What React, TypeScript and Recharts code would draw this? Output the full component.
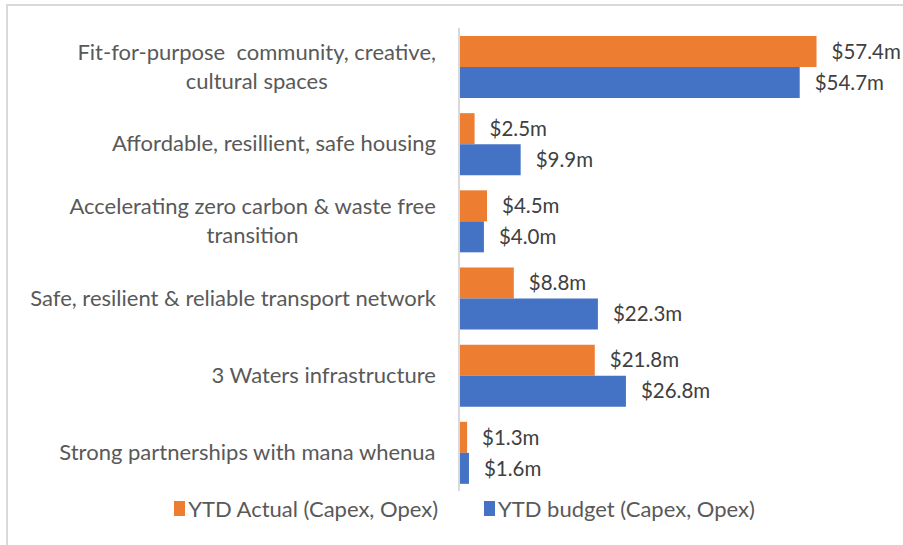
import { BarChart, Bar, XAxis, YAxis, LabelList } from "recharts"

const categories = [
  "Fit-for-purpose  community, creative,\ncultural spaces",
  "Affordable, resillient, safe housing",
  "Accelerating zero carbon & waste free\ntransition",
  "Safe, resilient & reliable transport network",
  "3 Waters infrastructure",
  "Strong partnerships with mana whenua",
]
const ytdActual = [57.4, 2.5, 4.5, 8.8, 21.8, 1.3]
const ytdBudget = [54.7, 9.9, 4.0, 22.3, 26.8, 1.6]
const seriesNames = ["YTD Actual (Capex, Opex)", "YTD budget (Capex, Opex)"]
const seriesColors = ["#ED7D31", "#4472C4"]

const FONT = "Lato, 'Open Sans', sans-serif"
const TEXT = "#595959"
const FS = 22
const LABEL_FS = 20.5

const data = categories.map((c, i) => ({
  name: c,
  actual: ytdActual[i],
  budget: ytdBudget[i],
}))

let ctx: CanvasRenderingContext2D | null = null
function measure(s: string) {
  if (!ctx) ctx = document.createElement("canvas").getContext("2d")
  if (!ctx) return s.length * FS * 0.5
  ctx.font = `${FS}px Lato`
  return ctx.measureText(s).width
}

function CategoryTick(props: any) {
  const { x, y, payload } = props
  const lines: string[] = String(payload.value).split("\n")
  const maxW = Math.max(...lines.map(measure))
  const cx = x - maxW / 2
  const lh = 29
  const y0 = y - ((lines.length - 1) * lh) / 2
  return (
    <text
      x={cx}
      y={y0}
      textAnchor="middle"
      fill={TEXT}
      fontSize={FS}
      fontFamily={FONT}
      style={{ whiteSpace: "pre" }}
    >
      {lines.map((l, i) => (
        <tspan key={i} x={cx} y={y0 + i * lh} dy="0.35em">
          {l}
        </tspan>
      ))}
    </text>
  )
}

const fmt = (v: any) => `$${Number(v).toFixed(1)}m`

export default function App() {
  return (
    <div
      style={{
        position: "absolute",
        left: 0,
        top: 0,
        width: 903,
        height: 545,
        overflow: "hidden",
        background: "#fff",
        fontFamily: FONT,
      }}
    >
      <div
        style={{
          position: "absolute",
          left: 6,
          top: 4,
          width: 1000,
          height: 1000,
          border: "2px solid #d9d9d9",
          boxSizing: "border-box",
        }}
      />
      <BarChart
        width={903}
        height={545}
        data={data}
        layout="vertical"
        margin={{ top: 28, right: 8, bottom: 54, left: 0 }}
        barGap={0}
        barSize={31}
        style={{ position: "absolute", left: 0, top: 0 }}
      >
        <XAxis type="number" domain={[0, 70]} hide />
        <YAxis
          type="category"
          dataKey="name"
          width={459}
          tickLine={false}
          tickSize={0}
          tickMargin={23}
          axisLine={{ stroke: "#d9d9d9", strokeWidth: 2 }}
          tick={<CategoryTick />}
          interval={0}
        />
        <Bar dataKey="actual" fill={seriesColors[0]} isAnimationActive={false}>
          <LabelList
            dataKey="actual"
            position="right"
            offset={15}
            formatter={fmt}
            fill="#404040"
            fontSize={LABEL_FS}
            fontFamily={FONT}
          />
        </Bar>
        <Bar dataKey="budget" fill={seriesColors[1]} isAnimationActive={false}>
          <LabelList
            dataKey="budget"
            position="right"
            offset={15}
            formatter={fmt}
            fill="#404040"
            fontSize={LABEL_FS}
            fontFamily={FONT}
          />
        </Bar>
      </BarChart>
      <div
        style={{
          position: "absolute",
          top: 495,
          left: 0,
          width: 903,
          display: "flex",
          justifyContent: "center",
          gap: 46,
          paddingLeft: 26,
          boxSizing: "border-box",
          fontSize: FS,
          color: TEXT,
          whiteSpace: "nowrap",
        }}
      >
        {seriesNames.map((n, i) => (
          <div key={n} style={{ display: "flex", alignItems: "center", gap: 3 }}>
            <span
              style={{
                display: "inline-block",
                width: 11,
                height: 15,
                background: seriesColors[i],
              }}
            />
            <span>{n}</span>
          </div>
        ))}
      </div>
    </div>
  )
}
